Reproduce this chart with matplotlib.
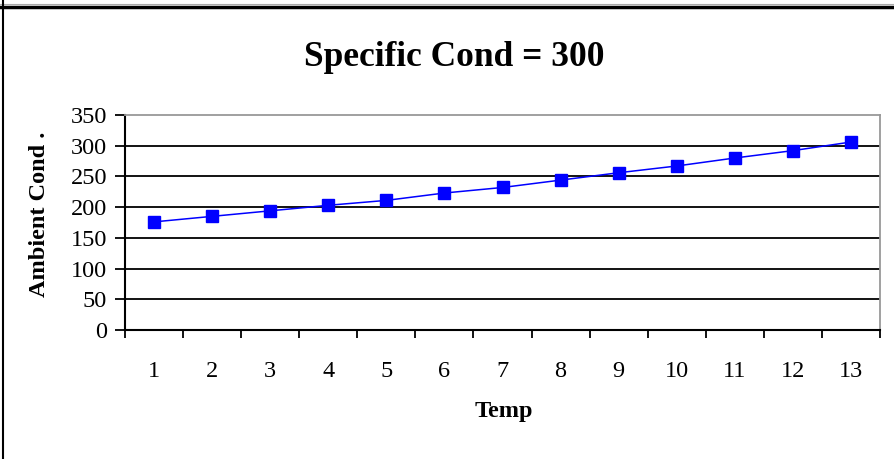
import matplotlib
matplotlib.use("Agg")
import matplotlib.pyplot as plt
import numpy as np
from matplotlib.lines import Line2D

temps = [1, 2, 3, 4, 5, 6, 7, 8, 9, 10, 11, 12, 13]
ambient = [176, 185, 194, 203, 211, 223, 232, 244, 256, 267, 280, 292, 306]
yticks = [0, 50, 100, 150, 200, 250, 300, 350]

plt.rcParams['font.family'] = ['Liberation Serif', 'DejaVu Serif']

fig = plt.figure(figsize=(8.95, 4.59), dpi=100)
ax = fig.add_axes([125/895, 1-330/459, (880-125)/895, (330-115)/459])

x = np.arange(1, len(temps) + 1)
ax.plot(x, ambient, color='#0000ff', lw=1.1, marker='s', markersize=8,
        markerfacecolor='#0000ff', markeredgecolor='#0000ff', zorder=5)

ax.set_xlim(0.5, len(temps) + 0.5)
ax.set_ylim(0, 350)
ax.set_yticks(yticks)
ax.set_yticklabels([str(v) for v in yticks], fontsize=17.5)
for v in yticks[1:-1]:
    ax.axhline(v, color='black', lw=1.3, zorder=1)

ax.set_xticks(np.arange(0.5, len(temps) + 1, 1.0))
ax.set_xticklabels([])
ax.set_xticks(x, minor=True)
ax.set_xticklabels([str(t) for t in temps], minor=True, fontsize=17.5)
ax.tick_params(axis='x', which='major', direction='out', length=6, width=1.3, color='black')
ax.tick_params(axis='x', which='minor', length=0, pad=22)
ax.tick_params(axis='y', direction='out', length=7, width=1.3, pad=6)

for s in ['left', 'bottom']:
    ax.spines[s].set_color('black')
    ax.spines[s].set_linewidth(1.5)
for s in ['top', 'right']:
    ax.spines[s].set_color('#999999')
    ax.spines[s].set_linewidth(1.3)

fig.text(454/895, 1-57/459, 'Specific Cond = 300', ha='center', va='center',
         fontsize=25.5, fontweight='bold')
fig.text(504/895, 1-412/459, 'Temp', ha='center', va='center',
         fontsize=17.5, fontweight='bold')
fig.text(40/895, 1-214/459, 'Ambient Cond .', ha='center', va='center',
         rotation=90, fontsize=17.5, fontweight='bold')

# outer frame lines
fig.add_artist(Line2D([0, 1], [1-6.5/459, 1-6.5/459], color='black', lw=2.5, transform=fig.transFigure))
fig.add_artist(Line2D([0, 1], [1-3.5/459, 1-3.5/459], color='#aaaaaa', lw=0.8, transform=fig.transFigure))
fig.add_artist(Line2D([3/895, 3/895], [0, 1], color='black', lw=1.5, transform=fig.transFigure))

fig.savefig('out.png', dpi=100)
